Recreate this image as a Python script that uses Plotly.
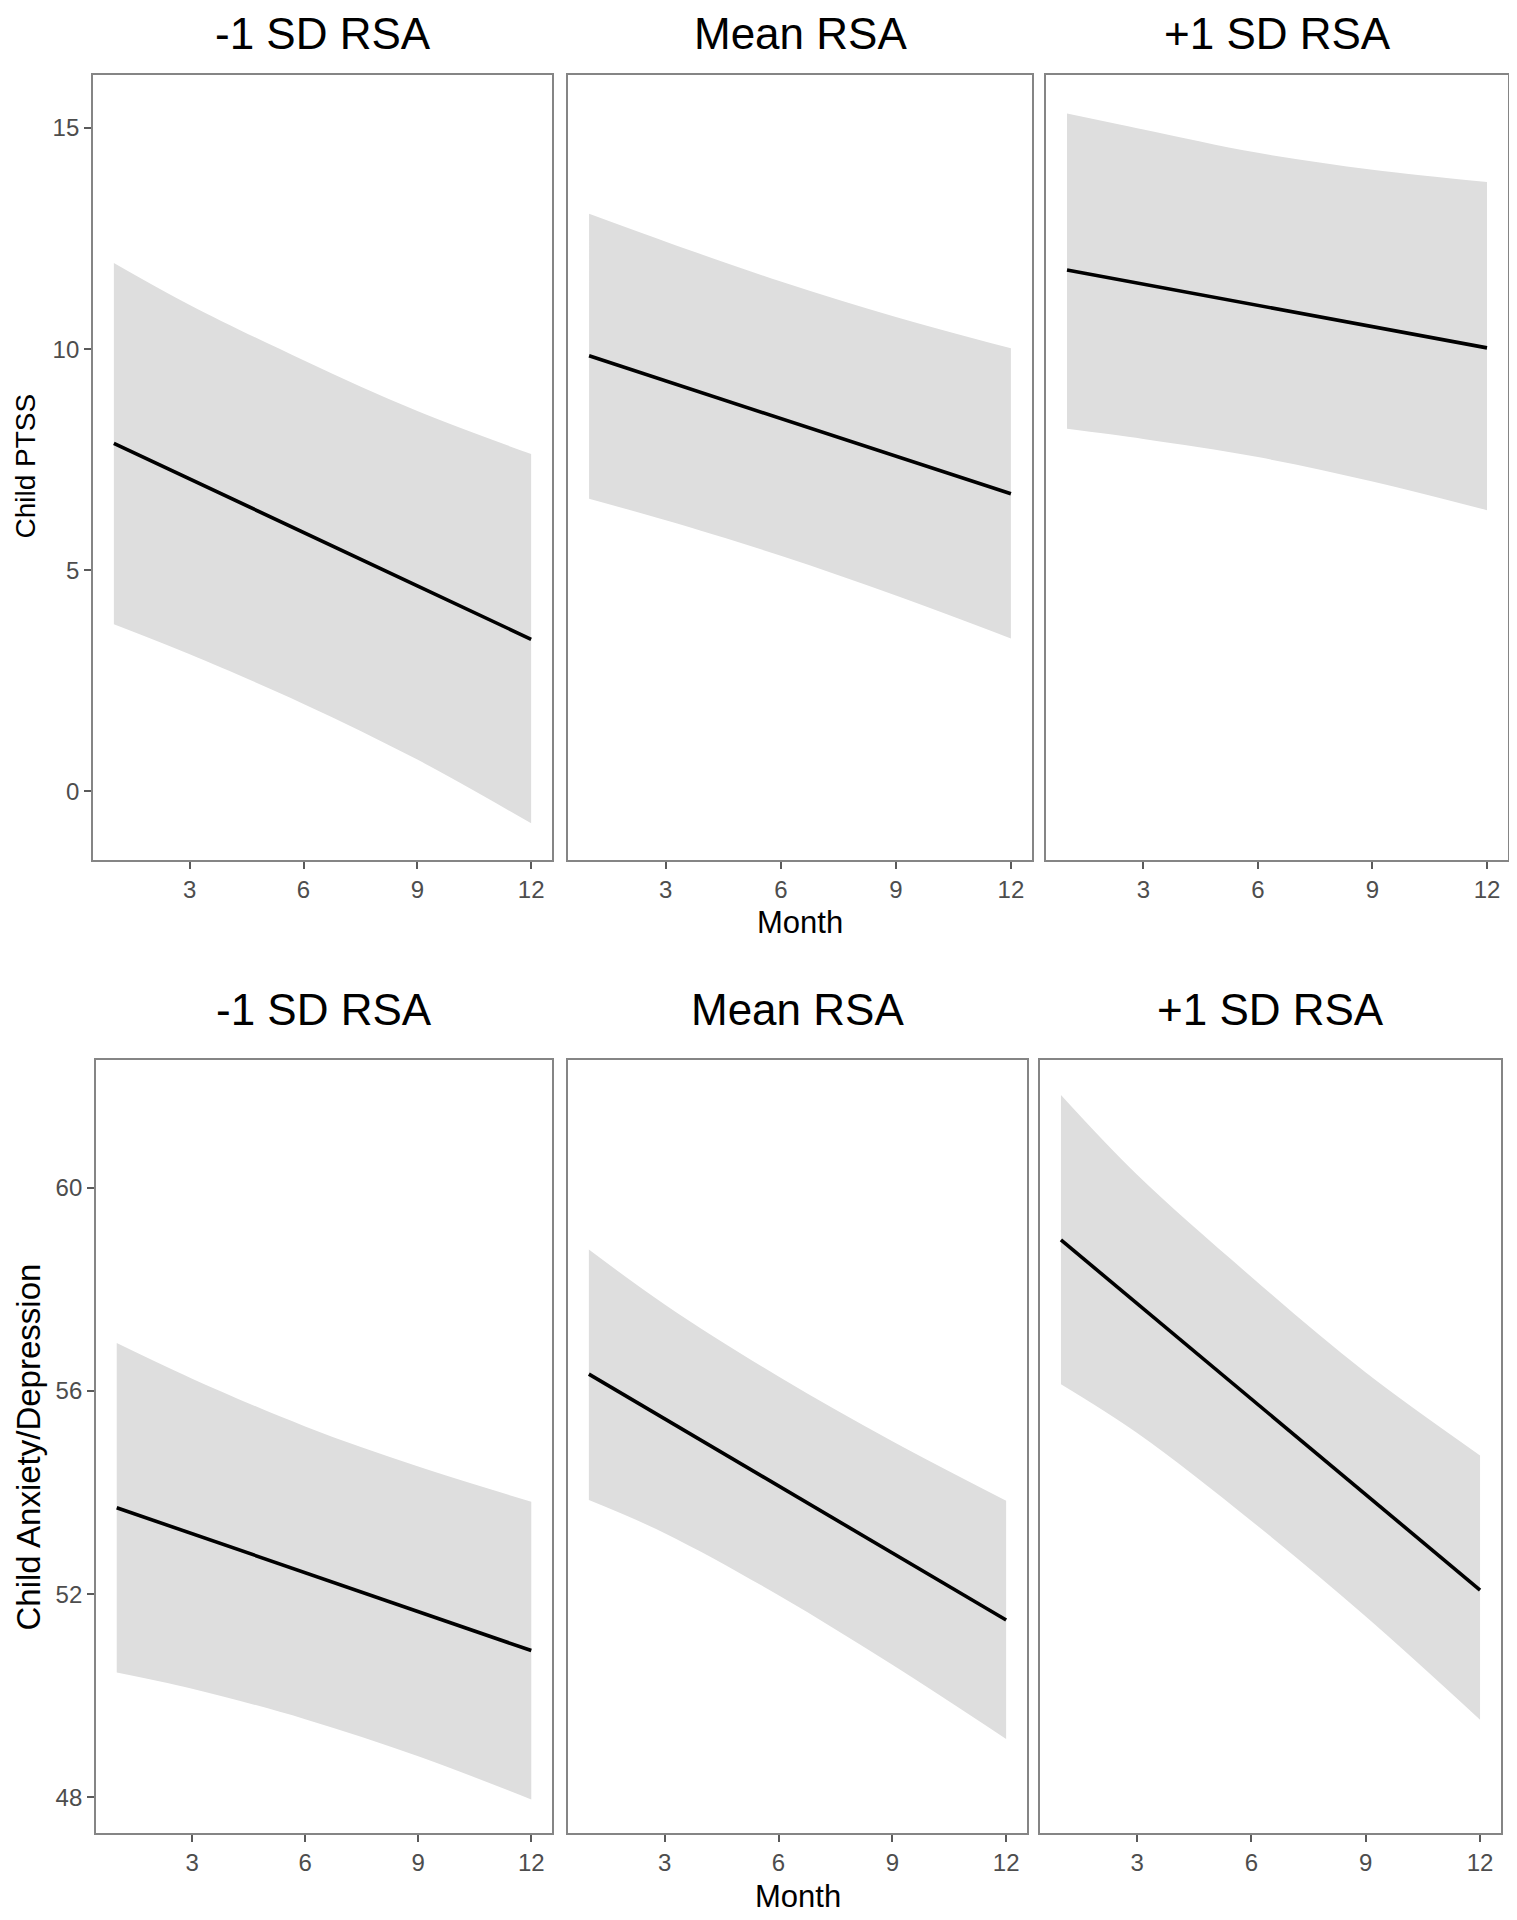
import plotly.graph_objects as go

# ---------------- data ----------------
months = [1, 3, 6, 9, 12]
panel_titles = ["-1 SD RSA", "Mean RSA", "+1 SD RSA"]

# Child PTSS (top row)
ptss_fit_neg = [7.87, 7.06, 5.86, 4.65, 3.44]
ptss_lo_neg = [3.78, 3.10, 1.98, 0.72, -0.72]
ptss_hi_neg = [11.95, 11.00, 9.75, 8.60, 7.63]
ptss_fit_mean = [9.85, 9.28, 8.43, 7.58, 6.73]
ptss_lo_mean = [6.62, 6.13, 5.33, 4.43, 3.46]
ptss_hi_mean = [13.06, 12.43, 11.53, 10.73, 10.02]
ptss_fit_pos = [11.79, 11.47, 10.99, 10.51, 10.03]
ptss_lo_pos = [8.20, 7.97, 7.56, 7.01, 6.36]
ptss_hi_pos = [15.33, 14.97, 14.44, 14.06, 13.78]

# Child Anxiety/Depression (bottom row)
anx_fit_neg = [53.70, 53.19, 52.42, 51.66, 50.89]
anx_lo_neg = [50.46, 50.14, 49.54, 48.81, 47.96]
anx_hi_neg = [56.94, 56.24, 55.30, 54.51, 53.82]
anx_fit_mean = [56.33, 55.45, 54.13, 52.81, 51.49]
anx_lo_mean = [53.85, 53.20, 51.98, 50.61, 49.15]
anx_hi_mean = [58.78, 57.70, 56.28, 55.01, 53.84]
anx_fit_pos = [58.97, 57.72, 55.84, 53.96, 52.08]
anx_lo_pos = [56.13, 55.17, 53.44, 51.56, 49.53]
anx_hi_pos = [61.82, 60.25, 58.24, 56.36, 54.73]

x_ticks = [3, 6, 9, 12]
ptss_ticks = [0, 5, 10, 15]
anx_ticks = [48, 52, 56, 60]

# ---------------- layout geometry (screen pixels) ----------------
W, H = 1517, 1920
OFF = 8  # page body margin of the browser
top_cols = [(93, 552), (568, 1032), (1046, 1508)]
bot_cols = [(96, 552), (568, 1027), (1040, 1501)]
top_rows = (75, 860)
bot_rows = (1060, 1833)

def fx(p):
    return (p - OFF) / W

def fy(p):
    return 1 - (p - OFF) / H

band_color = "#DEDEDE"
border_color = "#858585"
tick_color = "#5A5A5A"
label_color = "#4D4D4D"
FONT = "Liberation Sans, Arial, sans-serif"

fig = go.Figure()

rows = [
    dict(cols=top_cols, rows=top_rows, yrange=[-1.55, 16.2], yticks=ptss_ticks,
         series=[(ptss_fit_neg, ptss_lo_neg, ptss_hi_neg),
                 (ptss_fit_mean, ptss_lo_mean, ptss_hi_mean),
                 (ptss_fit_pos, ptss_lo_pos, ptss_hi_pos)]),
    dict(cols=bot_cols, rows=bot_rows, yrange=[47.30, 62.51], yticks=anx_ticks,
         series=[(anx_fit_neg, anx_lo_neg, anx_hi_neg),
                 (anx_fit_mean, anx_lo_mean, anx_hi_mean),
                 (anx_fit_pos, anx_lo_pos, anx_hi_pos)]),
]

layout_axes = {}
idx = 0
for r, row in enumerate(rows):
    for c in range(3):
        idx += 1
        xname = "x" if idx == 1 else f"x{idx}"
        yname = "y" if idx == 1 else f"y{idx}"
        fit, lo, hi = row["series"][c]
        fig.add_trace(go.Scatter(x=months, y=lo, mode="lines", line=dict(width=0, shape="spline"),
                                 showlegend=False, hoverinfo="skip", xaxis=xname, yaxis=yname))
        fig.add_trace(go.Scatter(x=months, y=hi, mode="lines", line=dict(width=0, shape="spline"),
                                 fill="tonexty", fillcolor=band_color,
                                 showlegend=False, hoverinfo="skip", xaxis=xname, yaxis=yname))
        fig.add_trace(go.Scatter(x=months, y=fit, mode="lines", line=dict(color="black", width=3.6),
                                 showlegend=False, xaxis=xname, yaxis=yname))
        a, b = row["cols"][c]
        top, bottom = row["rows"]
        xk = "xaxis" if idx == 1 else f"xaxis{idx}"
        yk = "yaxis" if idx == 1 else f"yaxis{idx}"
        layout_axes[xk] = dict(
            domain=[fx(a), fx(b)], range=[0.45, 12.55], anchor=yname, automargin=False,
            tickvals=x_ticks, ticks="outside", ticklen=7, tickwidth=1.5, tickcolor=tick_color,
            showline=True, mirror=True, linecolor=border_color, linewidth=1.8,
            showgrid=False, zeroline=False,
            tickfont=dict(family=FONT, size=24, color=label_color),
        )
        first = (c == 0)
        layout_axes[yk] = dict(
            domain=[fy(bottom), fy(top)], range=row["yrange"], anchor=xname, automargin=False,
            tickvals=row["yticks"] if first else [], ticks="outside" if first else "",
            ticklen=7, tickwidth=1.5, tickcolor=tick_color,
            showticklabels=first,
            showline=True, mirror=True, linecolor=border_color, linewidth=1.8,
            showgrid=False, zeroline=False,
            tickfont=dict(family=FONT, size=24, color=label_color),
        )

annotations = []
# panel titles
for cols, ytop in [(top_cols, OFF), (bot_cols, 984)]:
    for (a, b), t in zip(cols, panel_titles):
        annotations.append(dict(text=t, x=fx((a + b) / 2), y=fy(ytop),
                                xref="paper", yref="paper", xanchor="center", yanchor="top",
                                borderpad=0, showarrow=False,
                                font=dict(family=FONT, size=44, color="black")))
# x-axis titles
for xc, yc in [(800, 922), (798, 1896)]:
    annotations.append(dict(text="Month", x=fx(xc), y=fy(yc), xref="paper", yref="paper",
                            xanchor="center", yanchor="middle", showarrow=False,
                            font=dict(family=FONT, size=31, color="black")))
# y-axis titles (left edge of the figure)
for txt, yc, fs in [("Child PTSS", 466, 28), ("Child Anxiety/Depression", 1447, 33)]:
    annotations.append(dict(text=txt, x=0, y=fy(yc), xref="paper", yref="paper",
                            xanchor="left", yanchor="middle", textangle=-90, showarrow=False,
                            borderpad=0,
                            font=dict(family=FONT, size=fs, color="black")))

fig.update_layout(
    width=W, height=H,
    margin=dict(l=0, r=0, t=0, b=0, autoexpand=False),
    paper_bgcolor="white", plot_bgcolor="white",
    annotations=annotations,
    **layout_axes,
)

fig.write_html("out.html")
